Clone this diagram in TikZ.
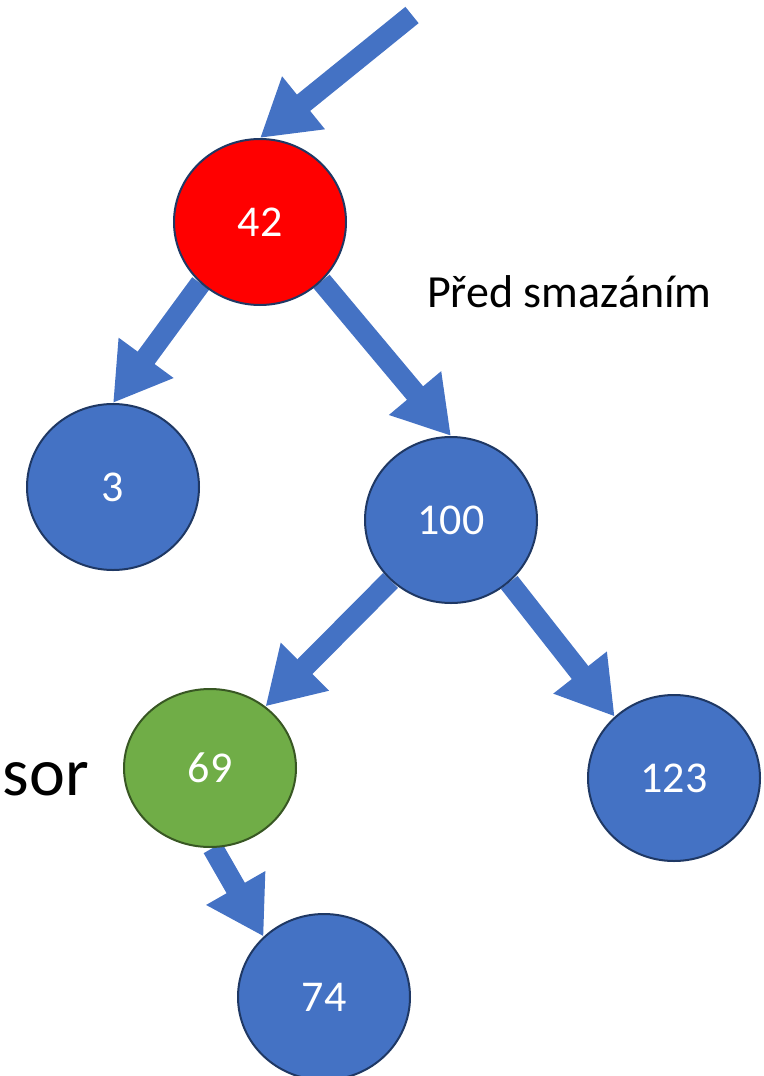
\documentclass[tikz,border=0pt]{standalone}
\usepackage{fontspec}
\setmainfont{Carlito}
\usetikzlibrary{shapes.geometric,arrows.meta}
\pgfdeclarelayer{background}
\pgfsetlayers{background,main}
\definecolor{nodeblue}{RGB}{68,114,196}
\definecolor{nodered}{RGB}{255,0,0}
\definecolor{nodegreen}{RGB}{112,173,71}
\definecolor{edgenavy}{RGB}{31,56,100}
\definecolor{edgegreen}{RGB}{56,87,35}
\tikzset{
  treenode/.style={ellipse, draw=edgenavy, line width=2pt, fill=nodeblue,
    minimum width=172pt, minimum height=166pt, inner sep=0pt,
    text=white, font=\fontsize{44}{52}\selectfont},
  ptr/.style={draw=nodeblue, line width=21pt,
    -{Triangle[length=56pt,width=64pt]}}
}

\begin{document}
\begin{tikzpicture}[x=1pt,y=1pt,yscale=-1,xscale=1]
\useasboundingbox (0,0) rectangle (763,1076);

% Tree Nodes
\node [treenode, fill=nodered] (n42) at (260,222) {42};
\node [treenode] (n3) at (113,487) {3};
\node [treenode] (n100) at (451,520) {100};
\node [treenode, fill=nodegreen, draw=edgegreen, minimum height=158pt] (n69) at (210,768) {69};
\node [treenode] (n123) at (674,778) {123};
\node [treenode] (n74) at (324,997) {74};

%Straight Lines
\coordinate (root) at (412,15);
\begin{pgfonlayer}{background}
\draw [ptr] (root) -- (n42.north);
\draw [ptr] (n42.226) -- (n3.north);
\draw [ptr] (n42.316) -- (n100.north);
\draw [ptr] (n100.225) -- (n69.48);
\draw [ptr] (n100.313) -- (n123.134);
\draw [ptr] (n69.272) -- (n74.135);
\end{pgfonlayer}

% Text Node
\node [anchor=base west, inner sep=0pt, font=\fontsize{46}{55}\selectfont] (label) at (427,307) {Před smazáním};
% Text Node
\node [anchor=base east, inner sep=0pt, font=\fontsize{68}{80}\selectfont] (succ) at (89,795) {sor};

\end{tikzpicture}
\end{document}
